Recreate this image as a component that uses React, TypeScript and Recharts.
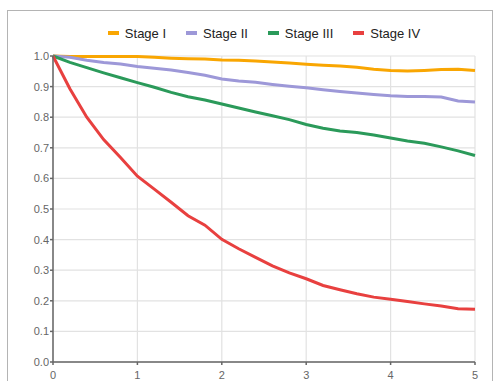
import React from "react";
import { LineChart, Line, XAxis, YAxis, CartesianGrid } from "recharts";

const times = [0, 0.2, 0.4, 0.6, 0.8, 1.0, 1.2, 1.4, 1.6, 1.8, 2.0, 2.2, 2.4, 2.6, 2.8, 3.0, 3.2, 3.4, 3.6, 3.8, 4.0, 4.2, 4.4, 4.6, 4.8, 5.0];
const stageI = [1.0, 0.998, 0.998, 0.998, 0.998, 0.998, 0.996, 0.993, 0.991, 0.99, 0.987, 0.986, 0.984, 0.98, 0.977, 0.973, 0.97, 0.967, 0.963, 0.957, 0.953, 0.951, 0.953, 0.956, 0.957, 0.953];
const stageII = [1.0, 0.996, 0.986, 0.979, 0.974, 0.966, 0.96, 0.954, 0.946, 0.937, 0.925, 0.918, 0.914, 0.907, 0.901, 0.896, 0.89, 0.884, 0.879, 0.874, 0.87, 0.868, 0.868, 0.866, 0.853, 0.85];
const stageIII = [1.0, 0.979, 0.962, 0.945, 0.929, 0.913, 0.898, 0.881, 0.867, 0.856, 0.843, 0.83, 0.817, 0.805, 0.792, 0.776, 0.764, 0.755, 0.75, 0.742, 0.732, 0.722, 0.715, 0.703, 0.69, 0.675];
const stageIV = [1.0, 0.893, 0.8, 0.727, 0.668, 0.607, 0.565, 0.522, 0.478, 0.447, 0.401, 0.37, 0.342, 0.314, 0.291, 0.272, 0.25, 0.236, 0.223, 0.212, 0.205, 0.198, 0.19, 0.183, 0.174, 0.172];

const seriesNames = ["Stage I", "Stage II", "Stage III", "Stage IV"];
const seriesKeys = ["s1", "s2", "s3", "s4"];
const seriesColors = ["#f9a602", "#9d98d8", "#2b9a5a", "#e8403f"];
const xTicks = [0, 1, 2, 3, 4, 5];
const yTicks = [0, 0.1, 0.2, 0.3, 0.4, 0.5, 0.6, 0.7, 0.8, 0.9, 1.0];

const data = times.map((t, i) => ({
  t,
  s1: stageI[i],
  s2: stageII[i],
  s3: stageIII[i],
  s4: stageIV[i],
}));

const FONT = "Arial, 'Liberation Sans', sans-serif";

export default function App() {
  return (
    <div style={{ position: "absolute", left: 0, top: 0, width: 497, height: 381, background: "#fff", overflow: "hidden" }}>
      <div
        style={{
          position: "absolute",
          left: 7,
          top: 10,
          width: 486,
          height: 380,
          border: "1px solid #b4b4b4",
          boxSizing: "border-box",
        }}
      />
      <div
        style={{
          position: "absolute",
          left: 0,
          top: 25,
          width: 528,
          height: 16,
          display: "flex",
          justifyContent: "center",
          alignItems: "center",
          fontFamily: FONT,
          fontSize: 13,
          color: "#222",
        }}
      >
        {seriesNames.map((n, i) => (
          <div key={n} style={{ display: "flex", alignItems: "center", marginRight: i < 3 ? 20 : 0 }}>
            <span style={{ display: "inline-block", width: 11, height: 4, background: seriesColors[i], marginRight: 6 }} />
            <span>{n}</span>
          </div>
        ))}
      </div>
      <div style={{ position: "absolute", left: 0, top: 0 }}>
        <LineChart width={497} height={381} data={data} margin={{ top: 56, right: 22, bottom: 0, left: 0 }}>
          <CartesianGrid stroke="#e2e2e2" strokeWidth={1.2} />
          <XAxis
            dataKey="t"
            type="number"
            domain={[0, 5]}
            ticks={xTicks}
            height={19}
            tickSize={3}
            tickMargin={6}
            stroke="#666"
            strokeWidth={1.5}
            tick={{ fill: "#666", fontSize: 11, fontFamily: FONT }}
            interval={0}
          />
          <YAxis
            type="number"
            domain={[0, 1]}
            ticks={yTicks}
            width={53}
            tickSize={3}
            tickMargin={1}
            stroke="#666"
            strokeWidth={1.5}
            tickFormatter={(v: number) => v.toFixed(1)}
            tick={{ fill: "#666", fontSize: 11, fontFamily: FONT }}
            interval={0}
          />
          {seriesKeys.map((k, i) => (
            <Line
              key={k}
              type="linear"
              dataKey={k}
              name={seriesNames[i]}
              stroke={seriesColors[i]}
              strokeWidth={3}
              dot={false}
              isAnimationActive={false}
            />
          ))}
        </LineChart>
      </div>
    </div>
  );
}
